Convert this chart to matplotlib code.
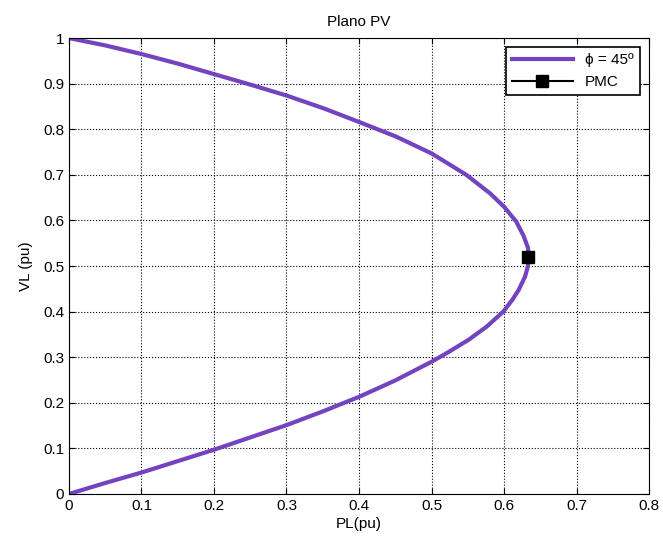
import matplotlib
matplotlib.use('Agg')
import matplotlib.pyplot as plt

# PV curve (upper branch -> nose -> lower branch)
P = [0.0, 0.05, 0.1, 0.15, 0.2, 0.25, 0.3, 0.351, 0.4, 0.451, 0.5, 0.548, 0.581, 0.6,
     0.617, 0.627, 0.633, 0.634, 0.633, 0.629, 0.620, 0.611, 0.599, 0.576, 0.551, 0.521,
     0.5, 0.45, 0.4, 0.35, 0.3, 0.25, 0.2, 0.15, 0.1, 0.05, 0.0]
V = [1.0, 0.984, 0.965, 0.944, 0.921, 0.898, 0.874, 0.846, 0.816, 0.784, 0.747, 0.70, 0.659, 0.630,
     0.597, 0.566, 0.540, 0.520, 0.500, 0.477, 0.447, 0.425, 0.40, 0.367, 0.338, 0.309,
     0.290, 0.249, 0.213, 0.181, 0.151, 0.124, 0.097, 0.072, 0.047, 0.024, 0.0]
pmc_P = [0.6326]
pmc_V = [0.520]

plt.rcParams['font.family'] = ['Liberation Sans', 'DejaVu Sans']
fig = plt.figure(figsize=(6.63, 5.44), dpi=100)
ax = fig.add_axes([0.104, 0.092, 0.875, 0.838])

ax.plot(P, V, color='#7443C0', lw=3, label='\u03d5 = 45\u00ba', solid_joinstyle='round')
ax.plot(pmc_P, pmc_V, 's-', color='black', ms=9, lw=1.5, label='PMC')

ax.set_xlim(0, 0.8)
ax.set_ylim(0, 1)
ax.set_xticks([0, 0.1, 0.2, 0.3, 0.4, 0.5, 0.6, 0.7, 0.8])
ax.set_xticklabels(['0', '0.1', '0.2', '0.3', '0.4', '0.5', '0.6', '0.7', '0.8'])
ax.set_yticks([0, 0.1, 0.2, 0.3, 0.4, 0.5, 0.6, 0.7, 0.8, 0.9, 1])
ax.set_yticklabels(['0', '0.1', '0.2', '0.3', '0.4', '0.5', '0.6', '0.7', '0.8', '0.9', '1'])
ax.tick_params(direction='in', labelsize=11, length=4, top=True, right=True)
ax.grid(True, color='black', ls=':', lw=0.8)
for s in ax.spines.values():
    s.set_linewidth(0.8)

ax.set_xlabel('PL(pu)', fontsize=11, labelpad=3)
ax.set_ylabel('VL (pu)', fontsize=11, labelpad=7)
ax.set_title('Plano PV', fontsize=11, pad=9)

leg = ax.legend(loc='upper right', fontsize=11, fancybox=False, framealpha=1,
                edgecolor='black', borderaxespad=0.6, handlelength=4)
leg.get_frame().set_linewidth(1.2)

fig.savefig('out.png', dpi=100)
